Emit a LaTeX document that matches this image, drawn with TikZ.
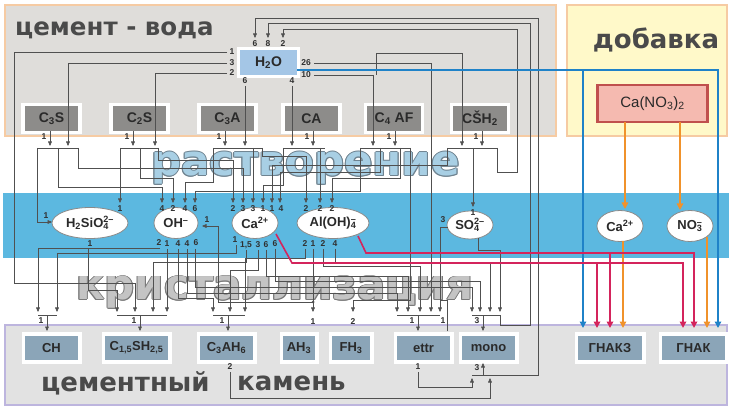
\documentclass[tikz,border=0pt]{standalone}
\usepackage{fontspec}
\setmainfont{Liberation Sans}
\newfontfamily\heavy{DejaVu Sans}
\usetikzlibrary{arrows.meta,shapes.geometric}
\definecolor{lc}{HTML}{505050}
\definecolor{labc}{HTML}{303030}
\definecolor{topbg}{HTML}{DFDDDA}
\definecolor{peach}{HTML}{F6CBA3}
\definecolor{yelbg}{HTML}{FFF9C9}
\definecolor{bandc}{HTML}{5CB8E0}
\definecolor{botbg}{HTML}{E2E2E2}
\definecolor{lav}{HTML}{BDB5DE}
\definecolor{tbox}{HTML}{8D8C8A}
\definecolor{bbox}{HTML}{8BA5B8}
\definecolor{hbox}{HTML}{A4C6E6}
\definecolor{boxtxt}{HTML}{2A2A2A}
\definecolor{elgray}{HTML}{8A8A8A}
\definecolor{rd}{HTML}{D4245C}
\definecolor{bl}{HTML}{1F82C8}
\definecolor{og}{HTML}{F0922B}
\definecolor{pinkf}{HTML}{F5BAB0}
\definecolor{darkred}{HTML}{C0504D}
\definecolor{ttl}{HTML}{4A4A4A}
\definecolor{rastf}{HTML}{A8CFE4}
\definecolor{rasto}{HTML}{6F8390}
\definecolor{krf}{HTML}{C4C4C4}
\definecolor{kro}{HTML}{7A7A7A}
\tikzset{
 ln/.style={draw=lc, line width=0.65pt},
 ar/.style={ln, -{Triangle[width=3.8pt,length=4.5pt]}},
 lb/.style={font=\fontsize{8.5}{9}\selectfont\bfseries, text=labc, inner sep=0pt},
 title/.style={font=\fontsize{26}{26}\selectfont\heavy\bfseries, text=ttl, inner sep=0pt},
 big/.style={font=\fontsize{42}{42}\selectfont\heavy\bfseries, inner sep=0pt},
 topbox/.style={fill=tbox, draw=white, line width=3.5pt, minimum width=57pt, minimum height=28pt, font=\fontsize{14}{14}\selectfont\bfseries, text=boxtxt, inner sep=0pt},
 botbox/.style={fill=bbox, draw=white, line width=3.5pt, minimum height=28pt, font=\fontsize{13}{13}\selectfont\bfseries, text=boxtxt, inner sep=0pt},
 ion/.style={ellipse, fill=white, draw=elgray, line width=0.8pt, inner sep=0pt, minimum height=31pt, font=\fontsize{13}{13}\selectfont\bfseries, text=boxtxt},
 redln/.style={draw=rd, line width=1.6pt, -{Triangle[width=6.5pt,length=6.5pt]}},
 blueln/.style={draw=bl, line width=1.4pt, -{Triangle[width=6.5pt,length=6.5pt]}},
 orln/.style={draw=og, line width=1.4pt, -{Triangle[width=6.5pt,length=6.5pt]}},
}
\begin{document}
\begin{tikzpicture}[x=1pt,y=-1pt]
\useasboundingbox (0,0) rectangle (732,409);
\fill[white] (0,0) rectangle (732,409);
% panels
\filldraw[fill=topbg, draw=peach, line width=2.5pt] (5,5) rectangle (556,136);
\filldraw[fill=yelbg, draw=peach, line width=2.5pt] (567,5) rectangle (727,136);
\fill[bandc] (3,193) rectangle (729,258);
\filldraw[fill=botbg, draw=lav, line width=1.5pt] (5,325) rectangle (727,405);
% titles
\node[title, anchor=west, font=\fontsize{24.5}{25}\selectfont\heavy\bfseries] (t1) at (15,30) {цемент - вода};
\node[title] (t2) at (656,40) {добавка};
\node[title, anchor=west] (t3) at (41,383) {цементный};
\node[title, anchor=west] (t4) at (237,383) {камень};
% big words
\foreach \dx/\dy in {-1/0,1/0,0/-1,0/1,-0.7/-0.7,0.7/0.7,-0.7/0.7,0.7/-0.7}
  \node[big, text=rasto, anchor=base west] at (151+\dx,176+\dy) {растворение};
\node[big, text=rastf, anchor=base west] (rast) at (151,176) {растворение};
\foreach \dx/\dy in {-1/0,1/0,0/-1,0/1,-0.7/-0.7,0.7/0.7,-0.7/0.7,0.7/-0.7}
  \node[big, text=kro, anchor=base west] at (76+\dx,300+\dy) {кристаллизация};
\node[big, text=krf, anchor=base west] (kris) at (76,300) {кристаллизация};

% top boxes
\node[topbox] (h2o) at (268.5,62.5) [fill=hbox, minimum width=60pt, minimum height=28pt] {H\textsubscript{2}O};
\node[topbox] (c3s) at (51.5,118.5) {C\textsubscript{3}S};
\node[topbox] (c2s) at (139.5,118.5) {C\textsubscript{2}S};
\node[topbox] (c3a) at (227.5,118.5) {C\textsubscript{3}A};
\node[topbox] (ca) at (311.5,118.5) {CA};
\node[topbox] (c4af) at (394,118.5) {C\textsubscript{4} AF};
\node[topbox] (csh) at (480,118.5) {CŠH\textsubscript{2}};
\node[fill=pinkf, draw=darkred, line width=2.5pt, minimum width=110pt, minimum height=37pt, font=\fontsize{15}{15}\selectfont, text=boxtxt] (cano) at (652.5,103.5) {Ca(NO\textsubscript{3})\textsubscript{2}};

% ions
\node[ion, minimum width=76pt] (hsio) at (90,223) {H\textsubscript{2}SiO\rlap{\textsubscript{4}}\textsuperscript{2--}};
\node[ion, minimum width=44pt] (oh) at (176,223) {OH\textsuperscript{--}};
\node[ion, minimum width=46pt] (ca1) at (255,223) {Ca\textsuperscript{2+}};
\node[ion, minimum width=72pt] (aloh) at (333,223) {Al(OH)\rlap{\textsubscript{4}}\textsuperscript{--}};
\node[ion, minimum width=46pt, minimum height=28pt] (so4) at (470,225) {SO\rlap{\textsubscript{4}}\textsuperscript{2--}};
\node[ion, minimum width=46pt] (ca2) at (620,226) {Ca\textsuperscript{2+}};
\node[ion, minimum width=46pt] (no3) at (690,226) {NO\rlap{\textsubscript{3}}\textsuperscript{--}};

% products
\node[botbox, minimum width=56.5pt] (ch) at (51.5,348) {CH};
\node[botbox, minimum width=66.5pt] (csh2) at (136.5,348) {C\textsubscript{1,5}SH\textsubscript{2,5}};
\node[botbox, minimum width=56.5pt] (c3ah6) at (226.5,348) {C\textsubscript{3}AH\textsubscript{6}};
\node[botbox, minimum width=35.5pt] (ah3) at (299,348) {AH\textsubscript{3}};
\node[botbox, minimum width=41.5pt] (fh3) at (351,348) {FH\textsubscript{3}};
\node[botbox, minimum width=56.5pt] (ettr) at (423.5,348) {ettr};
\node[botbox, minimum width=56.5pt] (mono) at (488.5,348) {mono};
\node[botbox, minimum width=67.5pt] (gnakz) at (610,348) {ГНАКЗ};
\node[botbox, minimum width=66.5pt] (gnak) at (693.5,348) {ГНАК};

% ---- H2O connectors
\node[lb] at (232,52) {1}; \draw[ar] (227,52) -- (14,52) -- (14,283) -- (135,283) -- (135,312);
\node[lb] at (232,63) {3}; \draw[ar] (227,63) -- (68,63) -- (68,146);
\node[lb] at (232,73) {2}; \draw[ar] (227,73) -- (155,73) -- (155,146);
\node[lb] at (245,81) {6}; \draw[ar] (245,86) -- (245,146);
\node[lb] at (292,81) {4}; \draw[ar] (292,86) -- (292,146);
\node[lb] at (306,63) {26}; \draw[ar] (314,63) -- (431,63) -- (431,312);
\node[lb] at (306,75) {10}; \draw[ar] (314,75) -- (373,75) -- (373,146);
\draw[ar] (376,75) -- (376,53) -- (462,53) -- (462,146);
\node[lb] at (255,44) {6}; \node[lb] at (268,44) {8}; \node[lb] at (283,44) {2};
\draw[ar] (497,375) -- (538,375) -- (538,18) -- (255,18) -- (255,38);
\draw[ar] (500,315) -- (500,325) -- (530,325) -- (530,23) -- (268,23) -- (268,38);
\draw[ar] (497,148) -- (497,172) -- (517,172) -- (517,29) -- (283,29) -- (283,38);

% mineral arrows
\foreach \xx in {50,133,225,313,395,482} {\draw[ar] (\xx,131) -- (\xx,146); \node[lb] at (\xx-6,137) {1};}
% bars
\draw[ln] (37,148) -- (78,148);
\draw[ln] (120,148) -- (158,148);
\draw[ln] (213,148) -- (262,148);
\draw[ln] (283,148) -- (325,148);
\draw[ln] (360,148) -- (410,148);
\draw[ln] (447,148) -- (497,148);
% C3S
\draw[ar] (37,148) -- (37,222) -- (52,222); \node[lb] at (46,216) {1};
\draw[ar] (58,148) -- (58,187) -- (162,187) -- (162,203); \node[lb] at (162,209) {4};
\draw[ar] (78,148) -- (78,168) -- (243,168) -- (243,203); \node[lb] at (243,209) {3};
% C2S
\draw[ar] (120,148) -- (120,203); \node[lb] at (120,209) {1};
\draw[ar] (140,148) -- (140,178) -- (173,178) -- (173,203); \node[lb] at (173,209) {2};
\draw[ar] (158,148) -- (158,160) -- (233,160) -- (233,203); \node[lb] at (233,209) {2};
% C3A
\draw[ar] (213,148) -- (213,182) -- (185,182) -- (185,203); \node[lb] at (185,209) {4};
\draw[ar] (253,148) -- (253,203); \node[lb] at (253,209) {3};
\draw[ar] (262,148) -- (262,156) -- (306,156) -- (306,203); \node[lb] at (306,209) {2};
% CA
\draw[ar] (283,148) -- (283,185) -- (263,185) -- (263,203); \node[lb] at (263,209) {1};
\draw[ar] (320,148) -- (320,203); \node[lb] at (320,209) {2};
% C4AF
\draw[ar] (360,148) -- (360,191) -- (195,191) -- (195,203); \node[lb] at (195,209) {6};
\draw[ar] (380,148) -- (380,172) -- (280,172) -- (280,203); \node[lb] at (281,209) {4};
\draw[ar] (400,148) -- (400,178) -- (332,178) -- (332,203); \node[lb] at (332,209) {2};
\draw[ar] (410,148) -- (410,300) -- (353,300) -- (353,312); \node[lb] at (353,322) {2};
% CSH2
\draw[ar] (473,148) -- (473,207); \node[lb] at (473,213) {1};
\draw[ar] (447,148) -- (447,165) -- (272,165) -- (272,203); \node[lb] at (272,209) {1};

% ---- ion outputs
\node[lb] at (90,244) {1}; \draw[ar] (88,249) -- (88,290) -- (117,290) -- (117,312);
\node[lb] at (159,243) {2}; \draw[ar] (160,248) -- (38,248) -- (38,312);
\node[lb] at (167,244) {1}; \draw[ar] (167,249) -- (167,312);
\node[lb] at (178,244) {4}; \draw[ar] (178,249) -- (178,298) -- (213,298) -- (213,312);
\node[lb] at (187,244) {4}; \draw[ar] (187,249) -- (187,293) -- (397,293) -- (397,312);
\node[lb] at (196,243) {6}; \draw[ar] (195,249) -- (195,287) -- (472,287) -- (472,312);
\node[lb] at (235,240) {1}; \draw[ar] (236,245) -- (236,253) -- (57,253) -- (57,312);
\node[lb] at (246,245) {1,5}; \draw[ar] (246,250) -- (246,262) -- (153,262) -- (153,312);
\node[lb] at (258,245) {3}; \draw[ar] (258,250) -- (258,270) -- (230,270) -- (230,312);
\node[lb] at (266,245) {6}; \draw[ar] (266,250) -- (266,276) -- (408,276) -- (408,312);
\node[lb] at (275,244) {6}; \draw[ar] (275,249) -- (275,281) -- (480,281) -- (480,312);
\node[lb] at (305,244) {2}; \draw[ar] (305,249) -- (305,258) -- (245,258) -- (245,312);
\node[lb] at (313,244) {1}; \draw[ar] (313,249) -- (313,312); \node[lb] at (313,322) {1};
\fill[lc] (313,302) circle (1.5pt);
\draw[ar] (313,302) -- (218,302) -- (218,226) -- (202,226); \node[lb] at (207,220) {1};
\node[lb] at (323,244) {2}; \draw[ar] (323,249) -- (323,266) -- (420,266) -- (420,312);
\node[lb] at (335,244) {4}; \draw[ar] (335,249) -- (335,262) -- (490,262) -- (490,312);
\node[lb] at (443,220) {3}; \draw[ar] (448,227) -- (440,227) -- (440,312);
\draw[ar] (478,238) -- (478,250) -- (500,250) -- (500,312);

% merges
\draw[ln] (38,315) -- (57,315); \draw[ar] (47,315) -- (47,331); \node[lb] at (41,321) {1};
\draw[ln] (117,315) -- (167,315); \draw[ar] (140,315) -- (140,331); \node[lb] at (134,321) {1};
\draw[ln] (213,315) -- (245,315); \draw[ar] (228,315) -- (228,331); \node[lb] at (222,321) {1};
\draw[ln] (397,315) -- (440,315); \draw[ar] (418,315) -- (418,331); \node[lb] at (412,321) {1};
\draw[ln] (472,315) -- (500,315); \draw[ar] (483,315) -- (483,331); \node[lb] at (477,321) {3};
\node[lb] at (443,321) {1}; \draw[ln] (447,331) -- (447,300) -- (440,300);
% bottom loop
\node[lb] at (230,367) {2}; \draw[ar] (230,372) -- (230,398) -- (490,398) -- (490,378);
\node[lb] at (418,367) {1}; \draw[ar] (418,372) -- (418,387) -- (472,387) -- (472,378);
\draw[ln] (472,375) -- (497,375); \draw[ar] (483,375) -- (483,363); \node[lb] at (477,368) {3};

% ---- coloured
\draw[blueln] (297,70) -- (718,70) -- (718,328);
\draw[blueln] (583,70) -- (583,328);
\draw[orln] (625,122) -- (625,209);
\draw[orln] (680,122) -- (680,210);
\draw[orln] (623,241) -- (623,328);
\draw[orln] (707,237) -- (707,328);
\draw[redln] (358,236) -- (366,253) -- (694,253) -- (694,328);
\draw[redln] (610,253) -- (610,328);
\draw[redln] (276,234) -- (292,263) -- (683,263) -- (683,328);
\draw[redln] (597,263) -- (597,328);
\end{tikzpicture}
\end{document}
